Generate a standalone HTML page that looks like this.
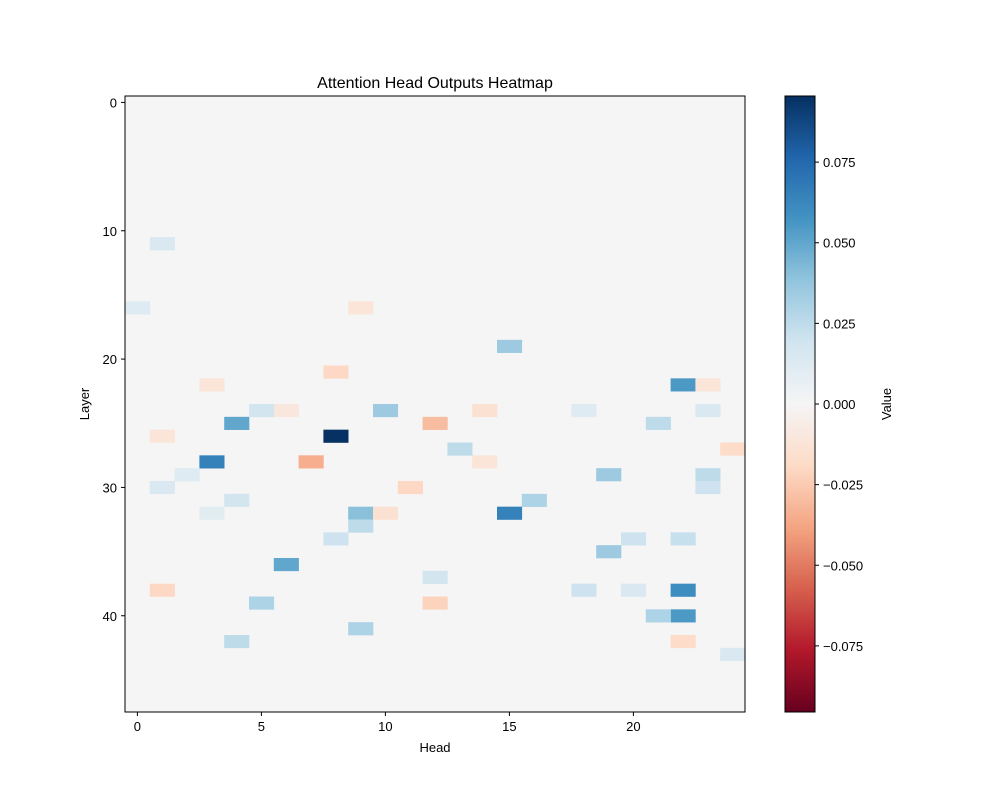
<!DOCTYPE html>
<html><head><meta charset="utf-8"><style>
body{margin:0;background:#fff;}
svg{display:block;font-family:"Liberation Sans","DejaVu Sans",sans-serif;}
</style></head><body>
<svg id="chart" width="1000" height="800" xmlns="http://www.w3.org/2000/svg"></svg>
<script>
const nHeads = 25;
const nLayers = 48;
const cellRows = [26,28,28,25,24,25,19,22,32,31,30,32,33,32,36,38,38,40,40,42,39,39,42,41,29,35,27,29,30,16,11,21,16,24,28,27,22,25,26,22,24,24,37,38,38,34,34,24,24,43,34,31,30,29,32];
const cellCols = [8,3,7,4,10,12,15,22,15,16,11,9,9,10,6,1,22,22,21,22,5,12,4,9,19,19,24,23,23,0,1,8,9,14,14,13,23,21,1,3,6,5,12,18,20,22,20,18,23,24,8,4,1,2,3];
const cellVals = [0.095,0.065,-0.035,0.05,0.035,-0.03,0.035,0.055,0.065,0.03,-0.02,0.04,0.025,-0.015,0.05,-0.02,0.06,0.055,0.03,-0.018,0.03,-0.022,0.025,0.03,0.035,0.035,-0.018,0.025,0.02,0.012,0.015,-0.02,-0.012,-0.015,-0.012,0.025,-0.012,0.025,-0.012,-0.012,-0.01,0.018,0.018,0.02,0.015,0.022,0.02,0.012,0.015,0.015,0.02,0.018,0.015,0.012,0.01];
const xTicks = [0,5,10,15,20];
const yTicks = [0,10,20,30,40];
const cbTicks = [0.075,0.05,0.025,0,-0.025,-0.05,-0.075];
const vmax = 0.0955;

const NS="http://www.w3.org/2000/svg";
const svg=document.getElementById('chart');
const L=125,T=96,W=620,H=616;
const xs=c=>L+(c+0.5)*W/nHeads;
const ys=r=>T+(r+0.5)*H/nLayers;
const cw=W/nHeads,ch=H/nLayers;
const stops=["#67001f","#b2182b","#d6604d","#f4a582","#fddbc7","#f5f5f5","#d1e5f0","#92c5de","#4393c3","#2166ac","#053061"];
function hex(h){return [1,3,5].map(i=>parseInt(h.substr(i,2),16));}
function color(v){let t=(v+vmax)/(2*vmax);t=Math.max(0,Math.min(1,t))*10;const i=Math.min(9,Math.floor(t)),f=t-i;const a=hex(stops[i]),b=hex(stops[i+1]);return `rgb(${a.map((x,k)=>Math.round(x+(b[k]-x)*f)).join(',')})`;}
function el(tag,attrs,parent){const e=document.createElementNS(NS,tag);for(const k in attrs)e.setAttribute(k,attrs[k]);(parent||svg).appendChild(e);return e;}
function txt(s,attrs,parent){const e=el('text',attrs,parent);e.textContent=s;return e;}

const bg=el('rect',{x:L,y:T,width:W,height:H,fill:'#f5f5f5'});


const g=el('g',{});


for(let i=0;i<cellVals.length;i++){
  const r=el('rect',{x:xs(cellCols[i])-cw/2,y:ys(cellRows[i])-ch/2,width:cw+0.3,height:ch+0.3,fill:color(cellVals[i])},g);
  
  
}
const fr=el('rect',{x:L,y:T,width:W,height:H,fill:'none',stroke:'#000','stroke-width':1});


xTicks.forEach(t=>{
  el('line',{x1:xs(t),x2:xs(t),y1:T+H,y2:T+H+4,stroke:'#000'});
  const e=txt(t,{x:xs(t),y:T+H+19,'text-anchor':'middle','font-size':13});
  
  
});
yTicks.forEach(t=>{
  el('line',{x1:L-4,x2:L,y1:ys(t),y2:ys(t),stroke:'#000'});
  const e=txt(t,{x:L-8,y:ys(t)+5,'text-anchor':'end','font-size':13});
  
  
});
const ti=txt('Attention Head Outputs Heatmap',{x:435,y:88,'text-anchor':'middle','font-size':16});


const xl=txt('Head',{x:435,y:752,'text-anchor':'middle','font-size':13});


const yl=txt('Layer',{x:0,y:0,'text-anchor':'middle','font-size':13,transform:'translate(89,404) rotate(-90)'});



// colorbar
const CX=785,CW=30;
const defs=el('defs',{});
const lg=el('linearGradient',{id:'cb',x1:0,y1:1,x2:0,y2:0},defs);
stops.forEach((s,i)=>el('stop',{offset:i/10,'stop-color':s},lg));
const cb=el('rect',{x:CX,y:T,width:CW,height:H,fill:'url(#cb)',stroke:'#000','stroke-width':1});


const cy=v=>T+H/2-v/vmax*(H/2);
cbTicks.forEach(t=>{
  el('line',{x1:CX+CW,x2:CX+CW+4,y1:cy(t),y2:cy(t),stroke:'#000'});
  const e=txt((t<0?'\u2212':'')+Math.abs(t).toFixed(3),{x:CX+CW+8,y:cy(t)+5,'font-size':13});
  
  
});
const vl=txt('Value',{x:0,y:0,'text-anchor':'middle','font-size':13,transform:'translate(891,404) rotate(-90)'});


</script>
</body></html>
